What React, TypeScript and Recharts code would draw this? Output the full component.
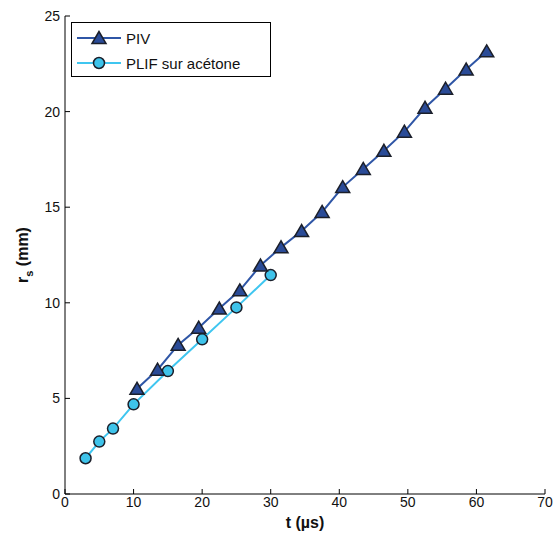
import { LineChart, Line, XAxis, YAxis } from 'recharts';

const pivT = [10.5, 13.5, 16.5, 19.5, 22.5, 25.5, 28.5, 31.5, 34.5, 37.5, 40.5, 43.5, 46.5, 49.5, 52.5, 55.5, 58.5, 61.5];
const pivR = [5.5, 6.5, 7.8, 8.7, 9.7, 10.65, 11.95, 12.9, 13.75, 14.75, 16.05, 17.0, 17.95, 18.95, 20.2, 21.2, 22.2, 23.15];

const plifT = [3, 5, 7, 10, 15, 20, 25, 30];
const plifR = [1.87, 2.74, 3.42, 4.69, 6.43, 8.09, 9.76, 11.45];

const xTicks = [0, 10, 20, 30, 40, 50, 60, 70];
const yTicks = [0, 5, 10, 15, 20, 25];

const pivData = pivT.map((t, i) => ({ t, r: pivR[i] }));
const plifData = plifT.map((t, i) => ({ t, r: plifR[i] }));

const FONT = '"Liberation Sans", Arial, Helvetica, sans-serif';
const PIV_LINE = '#2f56a6';
const PIV_FILL = '#2a4b97';
const PLIF_LINE = '#3fc6f0';
const PLIF_FILL = '#3ec3ea';
const EDGE = '#1b1f2a';

function Triangle(props: any) {
  const { cx, cy } = props;
  if (cx == null || cy == null) return null;
  const h = 6.5;
  return (
    <polygon
      points={`${cx},${cy - h} ${cx - 7},${cy + h - 1} ${cx + 7},${cy + h - 1}`}
      fill={PIV_FILL}
      stroke={EDGE}
      strokeWidth={1.5}
      strokeLinejoin="miter"
    />
  );
}

function Circle(props: any) {
  const { cx, cy } = props;
  if (cx == null || cy == null) return null;
  return <circle cx={cx} cy={cy} r={5.5} fill={PLIF_FILL} stroke={EDGE} strokeWidth={1.5} />;
}

function XLabel(props: any) {
  const vb = props.viewBox;
  return (
    <text x={vb.x + vb.width / 2} y={vb.y + 34} textAnchor="middle" fontFamily={FONT} fontSize={16} fontWeight="bold" fill="#111">
      t (µs)
    </text>
  );
}

function YLabel(props: any) {
  const vb = props.viewBox;
  const cx = 28;
  const cy = vb.y + vb.height / 2;
  return (
    <text x={cx} y={cy} transform={`rotate(-90 ${cx} ${cy})`} textAnchor="middle" fontFamily={FONT} fontSize={16} fontWeight="bold" fill="#111">
      r<tspan fontSize={11} dy={5}>s</tspan><tspan dy={-5}> (mm)</tspan>
    </text>
  );
}

function LegendBox() {
  const rows = [
    { name: 'PIV', color: PIV_LINE, marker: 'tri' },
    { name: 'PLIF sur acétone', color: PLIF_LINE, marker: 'circ' },
  ];
  return (
    <div
      style={{
        position: 'absolute',
        left: 71,
        top: 22,
        width: 200,
        height: 55,
        border: '1px solid #000',
        background: '#fff',
        fontFamily: FONT,
        fontSize: 15,
        boxSizing: 'border-box',
      }}
    >
      {rows.map((r, i) => (
        <div key={r.name} style={{ position: 'absolute', left: 0, top: 3 + i * 25, height: 24, display: 'flex', alignItems: 'center' }}>
          <svg width={54} height={24}>
            <line x1={5} x2={49} y1={12} y2={12} stroke={r.color} strokeWidth={2} />
            {r.marker === 'tri' ? <Triangle cx={27} cy={12} /> : <Circle cx={27} cy={12} />}
          </svg>
          <span style={{ color: '#111' }}>{r.name}</span>
        </div>
      ))}
    </div>
  );
}

export default function App() {
  return (
    <div style={{ position: 'absolute', left: 0, top: 0, width: 553, height: 535, background: '#fff' }}>
      <LineChart width={553} height={535} margin={{ top: 16, right: 8, bottom: 0, left: 0 }}>
        <XAxis
          xAxisId="b"
          dataKey="t"
          type="number"
          domain={[0, 70]}
          ticks={xTicks}
          height={41}
          tickSize={-5}
          tickMargin={8}
          stroke="#000"
          tick={{ fill: '#111', fontSize: 14, fontFamily: FONT }}
          label={<XLabel />}
          allowDuplicatedCategory={false}
        />
        <XAxis
          xAxisId="t"
          orientation="top"
          type="number"
          domain={[0, 70]}
          ticks={xTicks}
          height={0}
          tickSize={-5}
          tick={false}
          stroke="#000"
        />
        <YAxis
          yAxisId="l"
          type="number"
          domain={[0, 25]}
          ticks={yTicks}
          width={65}
          tickSize={-5}
          tickMargin={10}
          stroke="#000"
          tick={{ fill: '#111', fontSize: 14, fontFamily: FONT }}
          label={<YLabel />}
        />
        <YAxis
          yAxisId="r"
          orientation="right"
          type="number"
          domain={[0, 25]}
          ticks={yTicks}
          width={0}
          tickSize={-5}
          tick={false}
          stroke="#000"
        />
        <Line
          xAxisId="b"
          yAxisId="l"
          data={plifData}
          dataKey="r"
          type="linear"
          stroke={PLIF_LINE}
          strokeWidth={2}
          dot={<Circle />}
          activeDot={false}
          isAnimationActive={false}
        />
        <Line
          xAxisId="b"
          yAxisId="l"
          data={pivData}
          dataKey="r"
          type="linear"
          stroke={PIV_LINE}
          strokeWidth={2}
          dot={<Triangle />}
          activeDot={false}
          isAnimationActive={false}
        />
      </LineChart>
      <LegendBox />
    </div>
  );
}
